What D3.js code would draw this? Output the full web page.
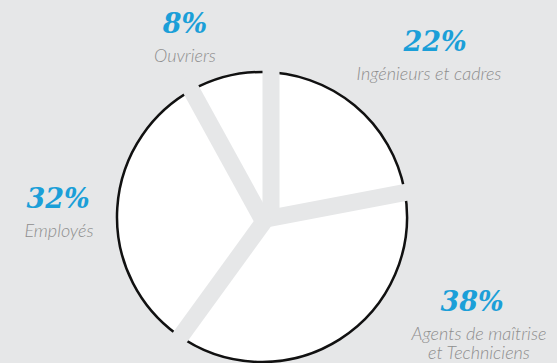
<!DOCTYPE html>
<html>
<head>
<meta charset="utf-8">
<script src="https://cdn.jsdelivr.net/npm/d3@7"></script>
<style>
  html, body { margin: 0; padding: 0; background: #e6e7e8; }
  svg { display: block; }
  .pct { font-family: "DejaVu Serif", "Liberation Serif", serif; font-weight: 700; font-style: italic; }
  .name { font-family: Lato, "Open Sans", sans-serif; font-weight: 300; font-style: italic; }
</style>
</head>
<body>
<svg id="chart" width="557" height="363"></svg>
<script>
// Répartition des effectifs par catégorie (sens horaire depuis midi)
const categories = ["Ingénieurs et cadres", "Agents de maîtrise et Techniciens", "Employés", "Ouvriers"];
const values = [22, 38, 32, 8];
const valueLabels = ["22%", "38%", "32%", "8%"];

// Mise en page
const W = 557, H = 363;
const cx = 262, cy = 217, R = 145;
const bg = "#e6e7e8";
const blue = "#1b9fd8";
const grey = "#8e8e8e";
const gapWidth = 17;
// décalage latéral de chaque séparateur (px), dans l'ordre des frontières
const gapShift = [9, 2.7, -4.3, -0.8];
// position des étiquettes : centre du pourcentage (px, py), centre du libellé (nx)
const labelPos = [
  { px: 435, py: 51, nx: 429, lines: ["Ingénieurs et cadres"] },
  { px: 472, py: 311, nx: 479, lines: ["Agents de maîtrise", "et Techniciens"] },
  { px: 58, py: 208, nx: 59, lines: ["Employés"] },
  { px: 185, py: 33, nx: 185, lines: ["Ouvriers"] }
];

const svg = d3.select("#chart");
svg.append("rect").attr("width", W).attr("height", H).attr("fill", bg);

const pie = d3.pie().sort(null).value(d => d);
const arcs = pie(values);

const g = svg.append("g").attr("transform", `translate(${cx},${cy})`);

const arcFill = d3.arc().innerRadius(0).outerRadius(R);

// secteurs blancs
g.selectAll("path.slice")
  .data(arcs)
  .join("path")
  .attr("class", "slice")
  .attr("d", arcFill)
  .attr("fill", "#fff");

// contour extérieur noir
g.selectAll("path.rim")
  .data(arcs)
  .join("path")
  .attr("class", "rim")
  .attr("d", d => {
    const p = d3.path();
    p.arc(0, 0, R, d.startAngle - Math.PI / 2, d.endAngle - Math.PI / 2);
    return p.toString();
  })
  .attr("fill", "none")
  .attr("stroke", "#111")
  .attr("stroke-width", 2.5);

// séparateurs épais couleur fond
g.selectAll("line.gap")
  .data(arcs)
  .join("line")
  .attr("class", "gap")
  .each(function (d, i) {
    const a = d.startAngle;
    const ux = Math.sin(a), uy = -Math.cos(a);
    const nx = Math.cos(a), ny = Math.sin(a);
    const off = gapShift[i];
    const ox = nx * off, oy = ny * off;
    d3.select(this)
      .attr("x1", ox - ux * 4).attr("y1", oy - uy * 4)
      .attr("x2", ox + ux * (R + 14)).attr("y2", oy + uy * (R + 14));
  })
  .attr("stroke", bg)
  .attr("stroke-width", gapWidth)
  .attr("stroke-linecap", "butt");

// étiquettes
const lab = svg.selectAll("g.label")
  .data(arcs)
  .join("g")
  .attr("class", "label");

lab.append("text")
  .attr("class", "pct")
  .attr("text-anchor", "middle")
  .attr("x", (d, i) => labelPos[i].px)
  .attr("y", (d, i) => labelPos[i].py)
  .attr("font-size", 27)
  .attr("fill", blue)
  .text((d, i) => valueLabels[i]);

lab.each(function (d, i) {
  const p = labelPos[i];
  const t = d3.select(this).append("text")
    .attr("class", "name")
    .attr("text-anchor", "middle")
    .attr("font-size", 18)
    .attr("fill", grey);
  p.lines.forEach((ln, k) => {
    t.append("tspan").attr("x", p.nx).attr("y", p.py + 29 + k * 18.5).text(ln);
  });
});
</script>
</body>
</html>
